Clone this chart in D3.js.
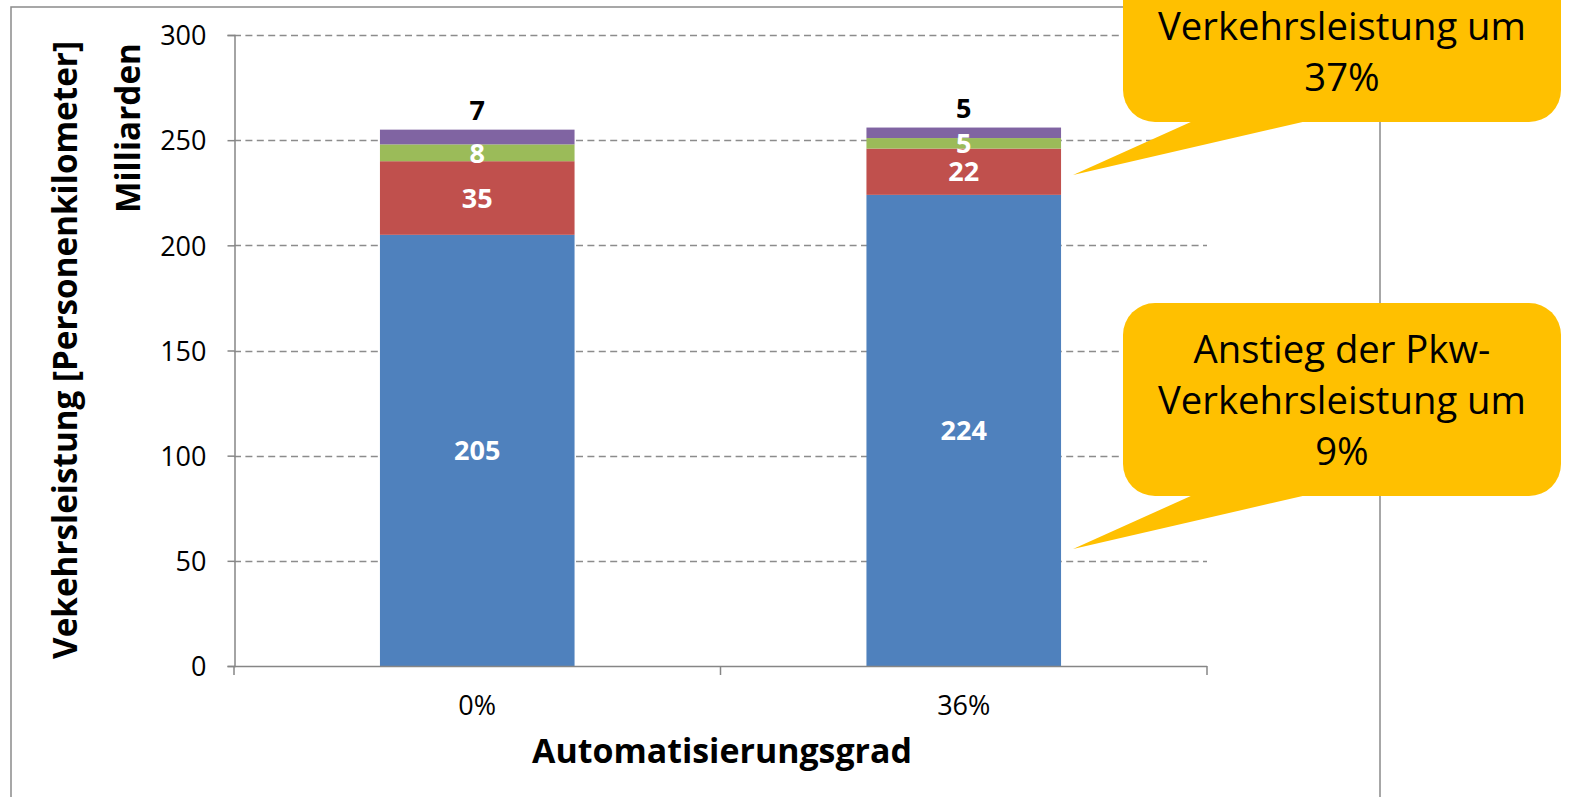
<!DOCTYPE html>
<html>
<head>
<meta charset="utf-8">
<script src="https://cdn.jsdelivr.net/npm/d3@7"></script>
<style>
  html, body { margin: 0; padding: 0; background: #fff; }
  svg { display: block; font-family: "Open Sans", "DejaVu Sans", sans-serif; }
</style>
</head>
<body>
<svg id="chart" width="1570" height="797"></svg>
<script>
// ---- data ----
const categories = ["0%", "36%"];
const seriesNames = ["Pkw", "ÖV", "Rad", "Fuß"];
const pkw  = [205, 224];
const oev  = [35, 22];
const rad  = [8, 5];
const fuss = [7, 5];
const yTicks = [0, 50, 100, 150, 200, 250, 300];
const colors = ["#4F81BD", "#C0504D", "#9BBB59", "#8064A2"];
const labelColors = ["#fff", "#fff", "#fff", "#000"];
const yTitle = "Vekehrsleistung [Personenkilometer]";
const yUnit = "Milliarden";
const xTitle = "Automatisierungsgrad";
const callout1 = ["Verkehrsleistung um", "37%"];
const callout2 = ["Anstieg der Pkw-", "Verkehrsleistung um", "9%"];

const series = [pkw, oev, rad, fuss];
const rows = categories.map((c, i) => {
  const r = { cat: c };
  seriesNames.forEach((s, j) => r[s] = series[j][i]);
  return r;
});
const stacked = d3.stack().keys(seriesNames)(rows);

// ---- layout ----
const svg = d3.select("#chart");
const x = d3.scaleBand().domain(categories).range([234, 1207]).paddingInner(0.6).paddingOuter(0.3);
const y = d3.scaleLinear().domain([0, 300]).range([666, 35]);

// frame
svg.append("rect").attr("x", 11).attr("y", 7).attr("width", 1369).attr("height", 820)
  .attr("fill", "none").attr("stroke", "#8a8a8a").attr("stroke-width", 1.5);

// gridlines
svg.append("g").selectAll("line").data(yTicks.filter(t => t > 0)).join("line")
  .attr("x1", 234).attr("x2", 1207)
  .attr("y1", d => Math.round(y(d)) + 0.5).attr("y2", d => Math.round(y(d)) + 0.5)
  .attr("stroke", "#8c8c8c").attr("stroke-width", 1.5).attr("stroke-dasharray", "7,4.4");

// y axis
const yAxis = svg.append("g").attr("transform", "translate(234.5,0)")
  .call(d3.axisLeft(y).tickValues(yTicks).tickSize(7).tickPadding(20));
yAxis.select(".domain").attr("stroke", "#868686").attr("stroke-width", 1.5);
yAxis.selectAll(".tick line").attr("stroke", "#868686").attr("stroke-width", 1.5);
yAxis.selectAll(".tick text").attr("font-size", 27).attr("fill", "#000")
  .attr("font-family", "Open Sans").attr("dy", "0.36em").attr("x", -28);

// bars
const g = svg.append("g");
stacked.forEach((layer, j) => {
  g.selectAll(null).data(layer).join("rect")
    .attr("x", d => x(d.data.cat))
    .attr("width", x.bandwidth())
    .attr("y", d => y(d[1]))
    .attr("height", d => y(d[0]) - y(d[1]))
    .attr("fill", colors[j]);
});

// x axis
svg.append("line").attr("x1", 234).attr("x2", 1207).attr("y1", 666.5).attr("y2", 666.5)
  .attr("stroke", "#868686").attr("stroke-width", 1.5);
const step = x.step();
const bounds = [0, 1, 2].map(i => 234 + i * (1207 - 234) / 2);
svg.append("g").selectAll("line").data(bounds).join("line")
  .attr("x1", d => d).attr("x2", d => d).attr("y1", 666).attr("y2", 675)
  .attr("stroke", "#868686").attr("stroke-width", 1.5);
svg.append("g").selectAll("text").data(categories).join("text")
  .attr("x", d => x(d) + x.bandwidth() / 2).attr("y", 715)
  .attr("text-anchor", "middle").attr("font-size", 27).text(d => d);

// bar labels
stacked.forEach((layer, j) => {
  g.selectAll(null).data(layer).join("text")
    .attr("x", d => x(d.data.cat) + x.bandwidth() / 2)
    .attr("y", d => j === 3 ? y(d[1]) - 10 : (y(d[0]) + y(d[1])) / 2)
    .attr("dy", j === 3 ? 0 : "0.36em")
    .attr("text-anchor", "middle").attr("font-size", 27).attr("font-weight", "bold")
    .attr("fill", labelColors[j])
    .text(d => d.data[seriesNames[j]]);
});

// helper to fit text to a width
function fit(sel, target) {
  const fs = +sel.attr("font-size");
  const w = sel.node().getComputedTextLength();
  sel.attr("font-size", fs * target / w);
}

// axis titles
const t1 = svg.append("text").attr("transform", "translate(77,350) rotate(-90)")
  .attr("text-anchor", "middle").attr("font-weight", "bold").attr("font-size", 30).text(yTitle);
fit(t1, 618);
const t2 = svg.append("text").attr("transform", "translate(140,128) rotate(-90)")
  .attr("text-anchor", "middle").attr("font-weight", "bold").attr("font-size", 30).text(yUnit);
fit(t2, 170);
const t3 = svg.append("text").attr("x", 722).attr("y", 763)
  .attr("text-anchor", "middle").attr("font-weight", "bold").attr("font-size", 30).text(xTitle);
fit(t3, 380);

// callouts
function callout(top, lines, firstBaseline) {
  const left = 1123, right = 1561, bottom = top + 193, r = 32;
  const c = svg.append("g");
  c.append("path").attr("fill", "#FFC000")
    .attr("d", `M1193,${bottom - 1} L1073,${bottom + 53} L1307,${bottom - 1} Z`);
  c.append("rect").attr("x", left).attr("y", top).attr("width", right - left).attr("height", bottom - top)
    .attr("rx", r).attr("ry", r).attr("fill", "#FFC000");
  const texts = c.selectAll("text").data(lines).join("text")
    .attr("x", 1342).attr("y", (d, i) => firstBaseline + i * 51)
    .attr("text-anchor", "middle").attr("font-size", 38).attr("fill", "#000").text(d => d);
  return texts;
}
const c1 = callout(-71, callout1, 40);
const c2 = callout(303, callout2, 363);
// scale callout font to match width of "Verkehrsleistung um" (368px)
const ref = c1.filter(d => d === "Verkehrsleistung um");
const fs = 38 * 368 / ref.node().getComputedTextLength();
c1.attr("font-size", fs); c2.attr("font-size", fs);
</script>
</body>
</html>
